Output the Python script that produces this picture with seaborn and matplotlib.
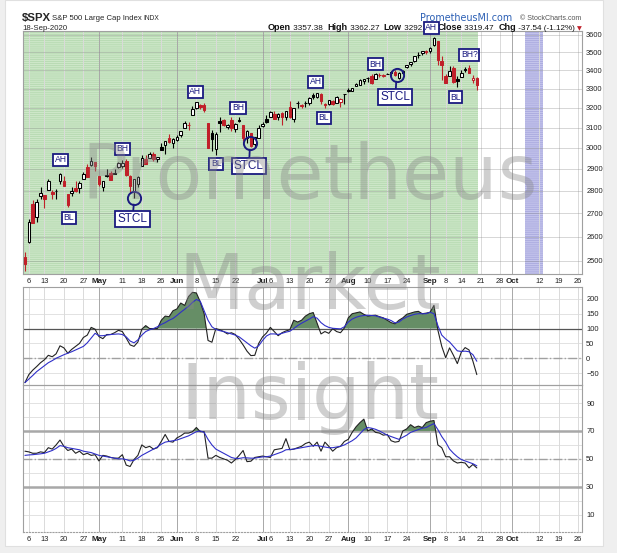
import numpy as np
import pandas as pd
import matplotlib
matplotlib.use("Agg")
import matplotlib.pyplot as plt
from matplotlib.patches import Rectangle
from matplotlib.ticker import NullLocator
import seaborn as sns

sns.set_style("white")
plt.rcParams['font.family'] = ['Liberation Sans', 'DejaVu Sans']
plt.rcParams['hatch.linewidth'] = 0.6

# ---- data: S&P 500 daily candles, 3-Apr-2020 .. 18-Sep-2020
holidays = ['2020-04-10', '2020-05-25', '2020-07-03', '2020-09-07']
prev_close_first = 2526.90
opens = [2514.92, 2578.28, 2738.65, 2685.00, 2776.99, 2782.46, 2805.10, 2795.64, 2799.34, 2842.43,
         2845.62, 2784.81, 2787.89, 2810.42, 2812.64, 2854.65, 2909.96, 2918.46, 2930.91, 2869.09,
         2815.01, 2868.88, 2883.14, 2878.26, 2908.83, 2915.46, 2939.50, 2865.86, 2794.54, 2829.95,
         2913.86, 2948.59, 2953.63, 2969.95, 2948.05, 3004.08, 3015.65, 3046.61, 3025.17, 3038.78,
         3064.78, 3098.90, 3111.56, 3163.84, 3199.92, 3213.32, 3213.42, 3123.53, 3071.04, 2993.76,
         3131.00, 3136.13, 3101.64, 3140.29, 3094.42, 3138.70, 3114.40, 3046.60, 3073.20, 3018.59,
         3050.20, 3105.92, 3143.64, 3155.29, 3166.44, 3153.07, 3176.17, 3152.47, 3205.08, 3141.11,
         3225.98, 3208.36, 3224.21, 3224.29, 3268.52, 3254.86, 3271.64, 3218.58, 3219.84, 3234.27,
         3227.22, 3231.76, 3270.45, 3288.26, 3289.92, 3317.37, 3323.17, 3340.05, 3356.04, 3370.34,
         3355.46, 3372.95, 3368.66, 3380.86, 3387.04, 3392.51, 3360.48, 3386.01, 3418.09, 3435.95,
         3449.97, 3485.14, 3494.69, 3509.73, 3507.44, 3543.76, 3564.74, 3453.60, 3371.88, 3369.82,
         3412.56, 3352.70, 3363.56, 3407.73, 3411.23, 3346.86, 3357.38]
highs = [2538.18, 2676.85, 2756.89, 2760.75, 2818.57, 2782.46, 2851.85, 2801.88, 2806.51, 2879.22,
         2868.98, 2785.54, 2815.10, 2844.90, 2842.71, 2887.72, 2921.15, 2954.86, 2930.91, 2869.09,
         2844.24, 2898.23, 2891.11, 2901.92, 2932.16, 2944.25, 2945.82, 2874.14, 2852.80, 2865.01,
         2968.09, 2964.21, 2980.29, 2978.50, 2956.76, 3021.72, 3036.25, 3068.67, 3049.17, 3062.18,
         3081.07, 3130.94, 3128.91, 3211.72, 3233.13, 3222.71, 3223.27, 3123.53, 3088.42, 3079.76,
         3153.45, 3141.16, 3120.00, 3155.53, 3120.92, 3154.90, 3115.01, 3086.25, 3073.73, 3053.89,
         3111.51, 3128.44, 3165.81, 3182.59, 3184.15, 3171.80, 3179.78, 3186.82, 3235.32, 3200.95,
         3238.28, 3220.39, 3233.52, 3258.61, 3277.29, 3279.32, 3279.99, 3227.26, 3241.43, 3243.72,
         3264.74, 3250.92, 3272.17, 3302.73, 3306.84, 3330.77, 3351.03, 3352.54, 3363.29, 3381.01,
         3387.89, 3387.24, 3378.51, 3387.59, 3395.06, 3399.54, 3390.80, 3399.96, 3432.09, 3444.21,
         3481.07, 3501.38, 3509.23, 3514.77, 3528.03, 3588.11, 3564.85, 3479.15, 3379.97, 3424.77,
         3425.55, 3368.95, 3402.93, 3419.48, 3428.92, 3375.17, 3362.27]
lows = [2459.96, 2574.57, 2657.67, 2663.30, 2762.36, 2721.17, 2805.10, 2761.54, 2764.32, 2830.88,
        2820.43, 2727.10, 2775.95, 2794.26, 2791.76, 2852.89, 2860.71, 2912.16, 2892.47, 2821.61,
        2797.85, 2863.55, 2847.65, 2876.48, 2902.88, 2903.44, 2869.59, 2793.15, 2766.64, 2816.78,
        2913.86, 2922.35, 2953.63, 2938.57, 2933.59, 2988.17, 2969.75, 3023.40, 2998.61, 3031.54,
        3051.64, 3098.90, 3090.41, 3163.84, 3196.00, 3193.11, 3181.49, 2999.49, 2984.47, 2965.66,
        3076.06, 3108.03, 3093.51, 3083.11, 3079.39, 3127.12, 3032.13, 3024.01, 3004.63, 2999.74,
        3047.83, 3101.17, 3124.52, 3155.29, 3142.93, 3136.53, 3115.70, 3136.22, 3149.43, 3127.66,
        3200.76, 3198.59, 3205.65, 3215.16, 3247.77, 3253.10, 3222.66, 3200.05, 3214.25, 3216.17,
        3227.22, 3204.13, 3220.26, 3284.53, 3286.37, 3317.37, 3318.14, 3328.72, 3335.44, 3326.44,
        3355.46, 3363.35, 3361.64, 3379.22, 3370.15, 3369.66, 3354.69, 3379.31, 3413.13, 3425.84,
        3444.15, 3468.35, 3484.32, 3493.25, 3494.60, 3535.23, 3427.41, 3349.63, 3329.27, 3366.84,
        3329.25, 3310.47, 3363.56, 3389.25, 3384.45, 3328.82, 3292.40]
closes = [2488.65, 2663.68, 2659.41, 2749.98, 2789.82, 2761.63, 2846.06, 2783.36, 2799.55, 2874.56,
          2823.16, 2736.56, 2799.31, 2797.80, 2836.74, 2878.48, 2863.39, 2939.51, 2912.43, 2830.71,
          2842.74, 2868.44, 2848.42, 2881.19, 2929.80, 2930.32, 2870.12, 2820.00, 2852.50, 2863.70,
          2953.91, 2922.94, 2971.61, 2948.51, 2955.45, 2991.77, 3036.13, 3029.73, 3044.31, 3055.73,
          3080.82, 3122.87, 3112.35, 3193.93, 3232.39, 3207.18, 3190.14, 3002.10, 3041.31, 3066.59,
          3124.74, 3113.49, 3115.34, 3097.74, 3117.86, 3131.29, 3050.33, 3083.76, 3009.05, 3053.24,
          3100.29, 3115.86, 3130.01, 3179.72, 3145.32, 3169.94, 3152.05, 3185.04, 3155.22, 3197.52,
          3226.56, 3215.57, 3224.73, 3251.84, 3257.30, 3276.02, 3235.66, 3215.63, 3239.41, 3218.44,
          3258.44, 3246.22, 3271.12, 3294.61, 3306.51, 3327.77, 3349.16, 3351.28, 3360.47, 3333.69,
          3380.35, 3373.43, 3372.85, 3381.99, 3389.78, 3374.85, 3385.51, 3397.16, 3431.28, 3443.62,
          3478.73, 3484.55, 3508.01, 3500.31, 3526.65, 3580.84, 3455.06, 3426.96, 3331.84, 3398.96,
          3339.19, 3340.97, 3383.54, 3401.20, 3385.49, 3357.01, 3319.47]

# CCI(20) and its moving average
cci = [-82, -55, -40, -28, -15, -5, 10, 5, 15, 42, 35, 17, 30, 40, 50, 70, 78, 104, 98, 73,
       66, 80, 80, 86, 94, 90, 68, 45, 40, 55, 98, 110, 100, 100, 100, 128, 142, 140, 160, 166,
       186, 178, 208, 222, 220, 190, 150, 60, 54, 100, 96, 90, 82, 86, 80, 64, 45, 24, 9, 10,
       50, 72, 85, 104, 90, 76, 86, 92, 96, 128, 122, 128, 142, 150, 154, 118, 82, 90, 84, 100,
       90, 86, 102, 136, 150, 153, 156, 148, 142, 144, 145, 140, 136, 128, 120, 116, 128, 136, 148, 152,
       156, 158, 150, 152, 155, 178, 95, 40, 2, 35, 10, -18, 20, 36, 28, -10, -55]
cci_ma = [-82, -70, -58, -45, -35, -25, -15, -8, 0, 6, 12, 17, 22, 28, 34, 40, 52, 68, 84, 76,
          76, 78, 80, 81, 82, 80, 72, 58, 52, 62, 78, 90, 96, 100, 106, 114, 120, 128, 134, 144,
          155, 165, 175, 188, 198, 192, 160, 128, 106, 97, 93, 90, 86, 82, 78, 72, 62, 52, 42, 34,
          42, 60, 75, 82, 82, 80, 84, 88, 91, 100, 110, 118, 125, 132, 140, 135, 120, 110, 104, 101,
          100, 99, 106, 122, 132, 138, 142, 144, 145, 144, 143, 139, 135, 132, 127, 119, 122, 132, 139, 144,
          148, 150, 150, 150, 155, 150, 110, 78, 65, 55, 40, 25, 23, 24, 22, 12, -10]

# RSI(14) and its moving average
rsi = [55.5, 55, 54, 54, 55, 54.5, 58, 57, 60, 63.5, 59, 56, 57, 54, 55.5, 53, 54, 52.5, 53, 48.5,
       52.5, 52, 51, 50.5, 50.5, 53, 45.5, 44.5, 49.5, 52.5, 60, 58, 59, 57, 58, 62.5, 67.5, 62.5, 62, 65,
       66.5, 68.5, 68.5, 69.5, 72.5, 69.5, 69.5, 50.5, 50.5, 52.5, 51, 50, 49, 47, 49.5, 52.5, 56, 48, 48.3, 51,
       51.5, 52, 51.5, 51, 56.5, 57, 57.5, 64.5, 56.5, 57, 58, 59, 61, 62, 59, 62, 55.5, 62, 59, 55.5,
       58, 59, 62.5, 64, 69, 73, 76, 78.5, 70, 71.5, 69, 68.5, 67, 67.5, 63, 62, 62.5, 70, 71.5, 74.5,
       72.5, 73.5, 72.5, 76, 77, 77.5, 60, 58, 51.5, 51.5, 48.5, 47, 47.5, 47, 43.5, 46, 43.5]
rsi_ma = [52.5, 52.8, 53, 53.3, 53.6, 54, 55, 56, 57.5, 59.5, 59, 58, 57.5, 57, 56.5, 55.5, 55, 54.5, 53.5, 52.5,
          52, 51.5, 51, 50.5, 50, 50, 49.5, 48.5, 49, 50.5, 52.5, 54, 55.5, 57, 58.5, 60.5, 62, 62.5, 63, 63.5,
          64.5, 65.5, 66.5, 68, 69.5, 70, 69, 64, 60, 57, 55.5, 54, 52.5, 51, 50.3, 50.3, 50.8, 50.7, 50.5, 50.5,
          51, 51.4, 51.5, 52, 53, 54, 55, 56.5, 56.7, 57, 57.5, 58, 58.5, 59, 59.5, 59.5, 59, 58.5, 58, 58,
          58.5, 59, 60, 61.5, 63, 65, 68, 71, 72.5, 72, 71.2, 70, 68.5, 67, 66, 65, 64, 65.5, 67, 69,
          70, 71, 72, 72.5, 74, 75.3, 71, 66, 62, 57, 54, 51.5, 49.5, 48.5, 47.5, 46.5, 45]

price_ticks = [2500, 2600, 2700, 2800, 2900, 3000, 3100, 3200, 3300, 3400, 3500, 3600]
cci_ticks = [-50, 0, 50, 100, 150, 200]
rsi_ticks = [10, 30, 50, 70, 90]

tick_dates = ['2020-04-06', '2020-04-13', '2020-04-20', '2020-04-27', '2020-05-01', '2020-05-11',
              '2020-05-18', '2020-05-26', '2020-06-01', '2020-06-08', '2020-06-15', '2020-06-22',
              '2020-07-01', '2020-07-06', '2020-07-13', '2020-07-20', '2020-07-27', '2020-08-03',
              '2020-08-10', '2020-08-17', '2020-08-24', '2020-09-01', '2020-09-08', '2020-09-14',
              '2020-09-21', '2020-09-28', '2020-10-01', '2020-10-12', '2020-10-19', '2020-10-26']
tick_labels = ['6', '13', '20', '27', 'May', '11', '18', '26', 'Jun', '8', '15', '22', 'Jul', '6',
               '13', '20', '27', 'Aug', '10', '17', '24', 'Sep', '8', '14', '21', '28', 'Oct',
               '12', '19', '26']

# annotations (day position, price level)
ann_labels = ['AH', 'BL', 'BH', 'STCL', 'AH', 'BL', 'BH', 'STCL', 'AH', 'BL', 'BH', 'STCL', 'AH', 'BH?', 'BL']
ann_x = [9.2, 11.3, 25.1, 27.6, 43.7, 49.1, 54.7, 57.5, 74.7, 76.7, 90.0, 95.1, 104.3, 114.1, 110.5]
ann_y = [2943, 2680, 2995, 2676, 3284, 2924, 3200, 2914, 3337, 3149, 3435, 3257, 3641, 3486, 3257]
circ_x = [28.1, 57.8, 95.4]
circ_y = [2768, 3024, 3375]
band_days = [128.3, 133.0]

# ---- dates / positions
dates = pd.bdate_range('2020-04-03', '2020-09-18').drop(pd.to_datetime(holidays))
future = pd.bdate_range('2020-09-21', '2020-10-30')
all_days = dates.append(future)
pos = {d: i for i, d in enumerate(all_days)}
tick_pos = [pos[pd.Timestamp(d)] for d in tick_dates]
is_month = [lab.isalpha() for lab in tick_labels]

o = np.array(opens); h = np.array(highs); l = np.array(lows); c = np.array(closes)
x = np.arange(len(c))
pc = np.r_[prev_close_first, c[:-1]]

RED = '#c0202a'
NAVY = '#1a1a80'
W, H = 617, 553
fx = lambda px: px / W
fy = lambda py: 1 - py / H

fig = plt.figure(figsize=(6.17, 5.53), dpi=100)
fig.patch.set_facecolor('#efefef')
fig.add_artist(Rectangle((fx(5), fy(546)), fx(598), 546 / H, transform=fig.transFigure,
                         facecolor='white', edgecolor='#e0e0e0', lw=0.8, zorder=-10))

XL = (-0.5, 143.0)
left, width = fx(23), fx(559)
ax1 = fig.add_axes([left, fy(274), width, 243 / H])
ax2 = fig.add_axes([left, fy(385), width, 98 / H])
ax3 = fig.add_axes([left, fy(532), width, 147 / H])

for ax in (ax1, ax2, ax3):
    ax.set_facecolor('none')
    ax.set_xlim(*XL)
    ax.yaxis.tick_right()
    ax.tick_params(length=0, labelsize=5.4, pad=3, colors='#222222')
    for s in ax.spines.values():
        s.set_color('#a0a0a0'); s.set_linewidth(0.8)
    for tp, m in zip(tick_pos, is_month):
        ax.axvline(tp, color='#a8a8a8' if m else '#dadada', lw=0.7, zorder=0.5)

# ---- main price panel
ax1.set_yscale('log')
ax1.set_ylim(2448, 3623)
ax1.yaxis.set_minor_locator(NullLocator())
ax1.set_yticks(price_ticks)
ax1.set_yticklabels([str(t) for t in price_ticks])
ax1.axvspan(XL[0], len(c) - 0.6, facecolor='#cde7c8', edgecolor='#b5d9b0', hatch='--------', lw=0, zorder=0.1)
ax1.axvspan(band_days[0], band_days[1], facecolor='#c4c4ec', edgecolor='#a9a9de', hatch='--------', lw=0, zorder=0.1)
for t in price_ticks:
    ax1.axhline(t, color='#8a8a8a', alpha=0.35, lw=0.7, zorder=0.5)

col = np.where(c >= pc, 'black', RED)
hollow = c >= o
ax1.vlines(x, l, h, colors=col, lw=0.8, zorder=2)
body_lo = np.minimum(o, c)
body_h = np.maximum(np.abs(c - o), 1.5)
face = np.where(hollow, 'white', col)
ax1.bar(x, body_h, bottom=body_lo, width=0.66, color=face, edgecolor=col, lw=0.75, zorder=3)

for lab, ax_, ay in zip(ann_labels, ann_x, ann_y):
    big = lab == 'STCL'
    ax1.text(ax_, ay, lab, ha='center', va='center', color=NAVY, fontsize=8.5 if big else 6.2,
             zorder=20, clip_on=False,
             bbox=dict(boxstyle='square,pad=0.18', facecolor='white', edgecolor=NAVY, lw=1.3))
stcl = [i for i, lab in enumerate(ann_labels) if lab == 'STCL']
for i, cx, cy in zip(stcl, circ_x, circ_y):
    ax1.annotate('', xy=(cx, cy), xytext=(ann_x[i], ann_y[i]), zorder=19,
                 arrowprops=dict(arrowstyle='-', color=NAVY, lw=1.3, shrinkA=6, shrinkB=4.8))
ax1.plot(circ_x, circ_y, 'o', ms=9.5, mfc='none', mec=NAVY, mew=1.4, zorder=19)

ax1.set_xticks(tick_pos)
ax1.set_xticklabels(tick_labels)

# ---- CCI panel
ax2.set_ylim(-90, 240)
ax2.set_yticks(cci_ticks)
ax2.set_xticks([])
for t in [-50, 0, 50, 100, 150, 200]:
    ax2.axhline(t, color='#e2e2e2', lw=0.7, zorder=0.4)
ax2.axhline(100, color='#555555', lw=0.9, zorder=1)
ax2.axhline(0, color='#a0a0a0', lw=1.0, ls='-.', zorder=1)
cci_a = np.array(cci, float)
ax2.fill_between(x, cci_a, 100, where=cci_a > 100, interpolate=True, color='#668e66', lw=0, zorder=1.5)
sns.lineplot(x=x, y=cci_ma, ax=ax2, color='#2f2fc8', lw=0.8, zorder=3)
sns.lineplot(x=x, y=cci, ax=ax2, color='#222222', lw=0.8, zorder=2)
ax2.set_xlabel(''); ax2.set_ylabel('')

# ---- RSI panel
ax3.set_ylim(-2.5, 103)
ax3.set_yticks(rsi_ticks)
for t in range(10, 101, 10):
    ax3.axhline(t, color='#e2e2e2', lw=0.7, zorder=0.4)
ax3.axhline(70, color='#a8a8a8', lw=1.8, zorder=1)
ax3.axhline(30, color='#a8a8a8', lw=1.8, zorder=1)
ax3.axhline(50, color='#a0a0a0', lw=1.0, ls='-.', zorder=1)
rsi_a = np.array(rsi, float)
ax3.fill_between(x, rsi_a, 70, where=rsi_a > 70, interpolate=True, color='#668e66', lw=0, zorder=1.5)
sns.lineplot(x=x, y=rsi_ma, ax=ax3, color='#2f2fc8', lw=0.8, zorder=3)
sns.lineplot(x=x, y=rsi, ax=ax3, color='#222222', lw=0.8, zorder=2)
ax3.set_xlabel(''); ax3.set_ylabel('')
ax3.set_xticks(tick_pos)
ax3.set_xticklabels(tick_labels)
ax3.spines['bottom'].set_linestyle(':')

for ax in (ax1, ax3):
    for tl, m in zip(ax.get_xticklabels(), is_month):
        if m:
            tl.set_fontweight('bold')
            tl.set_fontsize(5.8)

# ---- header
fig.text(fx(22), fy(21), '$SPX', fontsize=8.2, fontweight='bold', va='baseline')
sp = fig.text(fx(52), fy(20.5), 'S&P 500 Large Cap Index ', fontsize=5.6, va='baseline')
ax1.annotate('INDX', xy=(1, fy(20.5)), xycoords=(sp, 'figure fraction'), fontsize=4.8,
             va='baseline', annotation_clip=False)
fig.text(fx(22), fy(30), '18-Sep-2020', fontsize=5.6, va='baseline')
fig.text(fx(420), fy(21), 'PrometheusMI.com', fontsize=6.9, color='#2b5fb4', va='baseline',
         family=['DejaVu Sans'])
fig.text(fx(581), fy(20.5), '\u00a9 StockCharts.com', fontsize=5.1, color='#555555', ha='right', va='baseline')

chg = c[-1] - c[-2]
pieces = [('Open', True), (f' {o[-1]:.2f}  ', False), ('High', True), (f' {h[-1]:.2f}  ', False),
          ('Low', True), (f' {l[-1]:.2f}  ', False), ('Close', True), (f' {c[-1]:.2f}  ', False),
          ('Chg', True), (f' {chg:.2f} ({chg / c[-2] * 100:.2f}%) ', False)]
prev = fig.text(fx(582), fy(30), '\u25bc', color=RED, fontsize=4.5, ha='right', va='baseline',
                family=['DejaVu Sans'])
for s, b in reversed(pieces):
    prev = ax1.annotate(s, xy=(0, fy(30)), xycoords=(prev, 'figure fraction'), ha='right', va='baseline',
                        fontsize=6.5 if b else 5.9, fontweight='bold' if b else 'normal',
                        annotation_clip=False, color='#111111')

# ---- watermark
for txt, py in [('Prometheus', 199), ('Market', 309), ('Insight', 419)]:
    fig.text(fx(310), fy(py), txt, fontsize=55, color='#888888', alpha=0.4, ha='center', va='baseline',
             family=['DejaVu Sans'], zorder=30)

fig.savefig('out.png', dpi=100)
